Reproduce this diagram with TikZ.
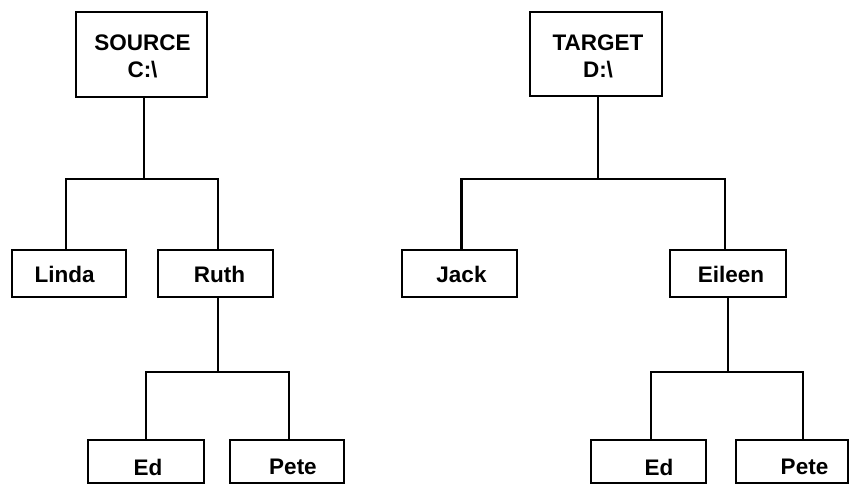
\documentclass[tikz,border=0pt]{standalone}
\usepackage{fontspec}
\setmainfont{Liberation Sans}
\begin{document}
\begin{tikzpicture}[x=1pt,y=-1pt,
  box/.style={draw, rectangle, line width=2.1pt, minimum height=47pt, inner sep=0pt},
  lbl/.style={font=\bfseries\fontsize{22.5}{26.5}\selectfont, inner sep=0pt, align=center},
  link/.style={line width=2.1pt, line join=miter, line cap=rect}]
\useasboundingbox (0,0) rectangle (849,485);
\clip (0,0) rectangle (849,485);
% junction levels
\coordinate (bar1) at (0,179);
\coordinate (bar2) at (0,372);
% tree 1
\node[box, minimum width=131pt, minimum height=85pt] (src) at (141.5,54.5) {};
\node[lbl] (srct) at (142.5,56.2) {SOURCE\\C:\textbackslash};
\node[box, minimum width=114pt] (linda) at (69,273.5) {};
\node[lbl] (lindat) at (64.7,274.7) {Linda};
\node[box, minimum width=115pt] (ruth) at (215.5,273.5) {};
\node[lbl] (rutht) at (219.5,274.7) {Ruth};
\node[box, minimum width=116pt, minimum height=43pt] (edl) at (146,461.5) {};
\node[lbl] (edlt) at (148,467.2) {Ed};
\node[box, minimum width=114pt, minimum height=43pt] (petel) at (287,461.5) {};
\node[lbl] (petelt) at (293,467.2) {Pete};
% tree 2
\node[box, minimum width=132pt, minimum height=84pt] (tgt) at (596,54) {};
\node[lbl] (tgtt) at (598,56.2) {TARGET\\D:\textbackslash};
\node[box, minimum width=115pt] (jack) at (459.5,273.5) {};
\node[lbl] (jackt) at (461.5,274.7) {Jack};
\node[box, minimum width=116pt] (eileen) at (728,273.5) {};
\node[lbl] (eileent) at (731,274.7) {Eileen};
\node[box, minimum width=115pt, minimum height=43pt] (edr) at (648.5,461.5) {};
\node[lbl] (edrt) at (659,467.2) {Ed};
\node[box, minimum width=112pt, minimum height=43pt] (peter) at (792,461.5) {};
\node[lbl] (petert) at (804.5,467.2) {Pete};
% connectors tree 1
\draw[link] ([xshift=2.5pt]src.south) -- ([xshift=2.5pt]src.south |- bar1);
\draw[link] ([xshift=-3pt]linda.north) -- ([xshift=-3pt]linda.north |- bar1)
  -- ([xshift=2.5pt]ruth.north |- bar1) -- ([xshift=2.5pt]ruth.north);
\draw[link] ([xshift=2.5pt]ruth.south) -- ([xshift=2.5pt]ruth.south |- bar2);
\draw[link] (edl.north) -- (edl.north |- bar2)
  -- ([xshift=2pt]petel.north |- bar2) -- ([xshift=2pt]petel.north);
% connectors tree 2
\draw[link] ([xshift=2pt]tgt.south) -- ([xshift=2pt]tgt.south |- bar1);
\draw[link] ([xshift=2pt]jack.north) -- ([xshift=2pt]jack.north |- bar1)
  -- ([xshift=-3pt]eileen.north |- bar1) -- ([xshift=-3pt]eileen.north);
\draw[link] (eileen.south) -- (eileen.south |- bar2);
\draw[link] ([xshift=2.5pt]edr.north) -- ([xshift=2.5pt]edr.north |- bar2)
  -- ([xshift=11pt]peter.north |- bar2) -- ([xshift=11pt]peter.north);
\end{tikzpicture}
\end{document}
